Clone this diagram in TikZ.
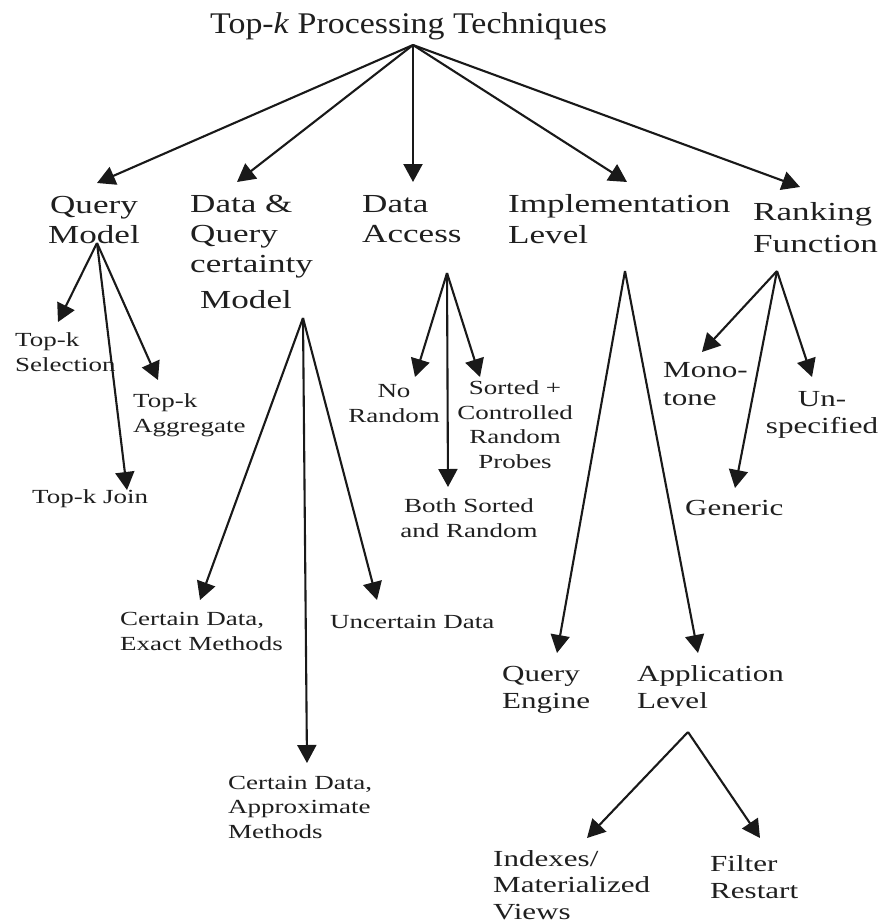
\documentclass[tikz,border=0pt]{standalone}
\usepackage{fontspec}
\setmainfont{Liberation Serif}[FakeStretch=1.35]
\newfontfamily\headfont{Liberation Serif}[FakeStretch=1.13]
\usetikzlibrary{arrows.meta}
\begin{document}
\begin{tikzpicture}[x=1pt,y=-1pt,
  every node/.style={inner sep=0pt, text=black!88},
  head/.style={font=\headfont\fontsize{30}{34}\selectfont, anchor=base west},
  big/.style={font=\fontsize{26}{30}\selectfont},
  mid/.style={font=\fontsize{23}{26.5}\selectfont},
  small/.style={font=\fontsize{20}{24.5}\selectfont},
  lft/.style={anchor=base west, align=left},
  ctr/.style={anchor=base, align=center},
  arr/.style={line width=2.1pt, black!90, -{Triangle[length=18pt,width=19pt]}}]

\fill[white] (0,0) rectangle (882,924);
\useasboundingbox (0,0) rectangle (882,924);

% root (nodes are placed by the baseline of their last line)
\node[head] (root) at (210,33) {Top-\textit{k} Processing Techniques};

% first level
\node[big,ctr] (qm) at (94,243) {Query\\Model};
\node[big,lft] (dq) at (190,308) {Data \&\\Query\\certainty\\[6pt]\hspace*{10pt}Model};
\node[big,lft] (da) at (362,242) {Data\\Access};
\node[big,lft] (il) at (508,243) {Implementation\\[1pt]Level};
\node[big,lft] (rf) at (753,252) {Ranking\\[2pt]Function};

% query model
\node[small,lft] (sel) at (15,371) {Top-k\\Selection};
\node[small,lft] (agg) at (133,432) {Top-k\\Aggregate};
\node[small,lft] (join) at (32,503) {Top-k Join};

% data and query certainty
\node[small,lft] (cex) at (120,650) {Certain Data,\\Exact Methods};
\node[small,lft] (unc) at (330,628) {Uncertain Data};
\node[small,lft] (cap) at (228,838) {Certain Data,\\Approximate\\Methods};

% data access
\node[small,ctr] (nor) at (394,422) {No\\Random};
\node[small,ctr] (scr) at (515,468) {Sorted +\\Controlled\\Random\\Probes};
\node[small,ctr] (both) at (469,537) {Both Sorted\\and Random};

% ranking function
\node[mid,lft] (mono) at (663,405) {Mono-\\[1pt]tone};
\node[mid,ctr] (uns) at (822,433) {Un-\\specified};
\node[mid,lft] (gen) at (685,515) {Generic};

% implementation level
\node[mid,lft] (qe) at (502,708) {Query\\Engine};
\node[mid,lft] (al) at (637,708) {Application\\Level};
\node[mid,lft] (idx) at (493,919) {Indexes/\\[0pt]Materialized\\[0pt]Views};
\node[mid,lft] (fr) at (710,898) {Filter\\Restart};

% fork points below the parents, entry points above the children
\coordinate (root-out) at (413,45);
\coordinate (qm-in) at (97,183);
\coordinate (dq-in) at (237,182);
\coordinate (da-in) at (413,182);
\coordinate (il-in) at (627,182);
\coordinate (rf-in) at (800,187);

\coordinate (qm-out) at (97,243);
\coordinate (sel-in) at (58,322);
\coordinate (join-in) at (127,490);
\coordinate (agg-in) at (158,380);

\coordinate (dq-out) at (303,318);
\coordinate (cex-in) at (200,600);
\coordinate (cap-in) at (307,763);
\coordinate (unc-in) at (377,600);

\coordinate (da-out) at (447,273);
\coordinate (nor-in) at (415,377);
\coordinate (both-in) at (448,487);
\coordinate (scr-in) at (480,377);

\coordinate (il-out) at (625,271);
\coordinate (qe-in) at (557,653);
\coordinate (al-in) at (698,653);

\coordinate (al-out) at (688,732);
\coordinate (idx-in) at (587,838);
\coordinate (fr-in) at (760,838);

\coordinate (rf-out) at (777,271);
\coordinate (mono-in) at (702,352);
\coordinate (gen-in) at (735,488);
\coordinate (uns-in) at (812,377);

% connectors
\foreach \c in {qm,dq,da,il,rf} \draw[arr] (root-out) -- (\c-in);
\foreach \c in {sel,join,agg} \draw[arr] (qm-out) -- (\c-in);
\foreach \c in {cex,cap,unc} \draw[arr] (dq-out) -- (\c-in);
\foreach \c in {nor,both,scr} \draw[arr] (da-out) -- (\c-in);
\foreach \c in {qe,al} \draw[arr] (il-out) -- (\c-in);
\foreach \c in {idx,fr} \draw[arr] (al-out) -- (\c-in);
\foreach \c in {mono,gen,uns} \draw[arr] (rf-out) -- (\c-in);
\end{tikzpicture}
\end{document}
